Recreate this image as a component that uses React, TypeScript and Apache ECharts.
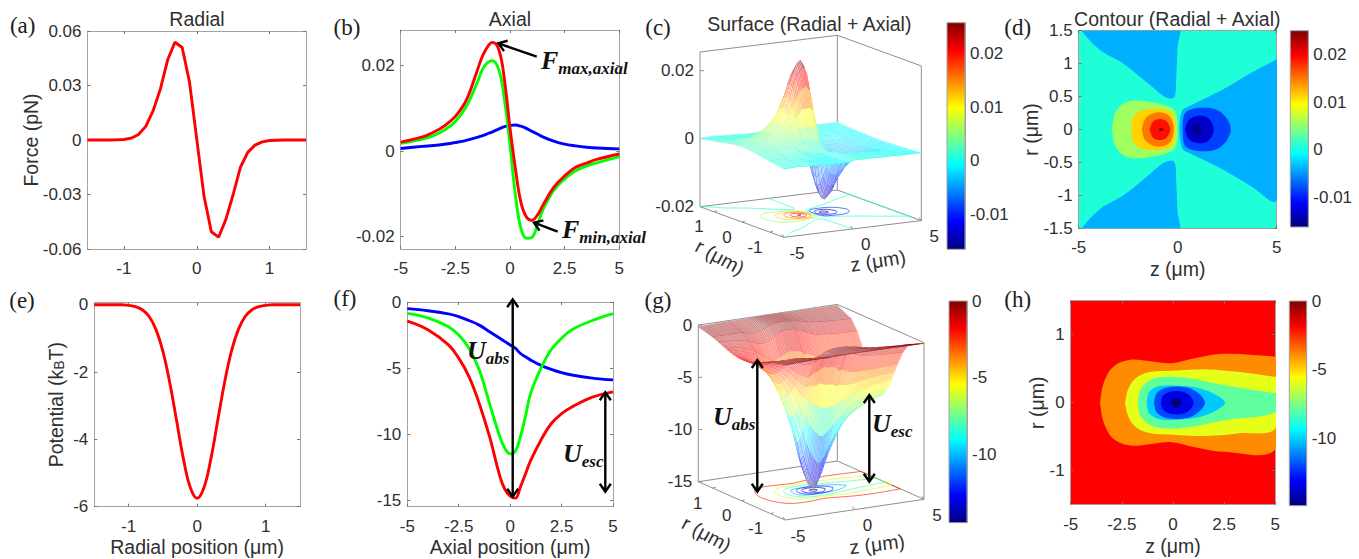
import React, { useEffect, useRef } from "react";
import * as echarts from "echarts";

const radialForceX = [-1.5,-1.4,-1.3,-1.2,-1.1,-1,-0.9,-0.8,-0.7,-0.6,-0.5,-0.4,-0.3,-0.2,-0.1,0,0.1,0.2,0.3,0.4,0.5,0.6,0.7,0.8,0.9,1,1.1,1.2,1.3,1.4,1.5];
const radialForce = [0,0,0,0,0.0001,0.0003,0.001,0.003,0.0075,0.016,0.028,0.044,0.0538,0.0509,0.032,0.0005,-0.031,-0.0505,-0.0535,-0.0437,-0.03,-0.015,-0.0068,-0.0028,-0.001,-0.0003,-0.0001,0,0,0,0];
const radialPotential = [0,0,0,0,0,-0.02,-0.055,-0.15,-0.35,-0.74,-1.38,-2.31,-3.44,-4.58,-5.43,-5.75,-5.43,-4.58,-3.44,-2.31,-1.38,-0.74,-0.35,-0.15,-0.055,-0.02,0,0,0,0,0];

const axialForceX = [-5,-4,-3.5,-3,-2.5,-2,-1.5,-1.25,-1,-0.8,-0.5,-0.25,0,0.25,0.5,0.75,1,1.25,1.5,2,2.5,3,3.5,4,5];
const axialForceRed = [0.0021,0.0033,0.0044,0.0059,0.0081,0.0119,0.0188,0.0223,0.0246,0.0254,0.0235,0.0165,0.0054,-0.0042,-0.012,-0.0154,-0.0162,-0.015,-0.0127,-0.0085,-0.0058,-0.0038,-0.0028,-0.0019,-0.0007];
const axialForceGreen = [0.0018,0.0028,0.0036,0.0049,0.0069,0.0104,0.016,0.0192,0.0208,0.0211,0.0188,0.0119,0.0014,-0.0104,-0.0181,-0.0204,-0.0202,-0.0173,-0.0138,-0.0092,-0.0065,-0.0046,-0.0035,-0.0027,-0.0013];
const axialForceBlue = [0.0006,0.0011,0.0013,0.0016,0.002,0.0025,0.0032,0.0036,0.0041,0.0045,0.0052,0.0057,0.006,0.0061,0.0058,0.0053,0.0046,0.004,0.0033,0.0023,0.0016,0.0012,0.0009,0.0007,0.0005];

const axialPotentialX = [-5,-4,-3,-2.5,-2,-1.5,-1,-0.5,-0.25,0,0.25,0.5,0.75,1,1.5,2,2.5,3,4,5];
const axialPotentialBlue = [-0.5,-0.66,-0.9,-1.1,-1.4,-1.75,-2.25,-2.75,-3,-3.25,-3.5,-3.9,-4.15,-4.4,-4.8,-5.1,-5.35,-5.53,-5.76,-5.9];
const axialPotentialGreen = [-0.86,-1.2,-1.87,-2.5,-3.5,-5.15,-7.7,-10.2,-11.1,-11.5,-11.3,-10.2,-8.6,-6.9,-5,-3.6,-2.75,-2.1,-1.4,-0.88];
const axialPotentialRed = [-1.45,-2.1,-3.25,-4.25,-5.65,-7.7,-10.2,-13.2,-14.2,-14.7,-14.85,-14,-13,-12,-10.45,-9.2,-8.45,-7.95,-7.2,-6.8];

// surface (c), values in units of 1e-3 pN; rows follow surfaceR, mirrored in r
const surfaceR = [0,0.1,0.2,0.3,0.4,0.5,0.6,0.8,1,1.5];
const forceZ = [-5,-4,-3.5,-3,-2.5,-2,-1.75,-1.5,-1.25,-1,-0.75,-0.5,-0.25,0,0.25,0.5,0.75,1,1.25,1.5,1.75,2,2.5,3,3.5,4,5];
const forceRows = [
  [2.1,3.3,4.3,5.4,8.5,12.3,15.5,19.2,22.3,24.6,25.4,23.5,16.5,5.4,-4.2,-12,-15.4,-16.2,-15,-12.7,-10.4,-8.5,-5.8,-3.8,-2.8,-1.9,-0.7],
  [2.1,3.3,4.2,5.3,8.2,11.7,14.7,18,20.9,22.7,23.4,21.7,15.2,5,-3.9,-11.1,-14.2,-15,-14,-11.9,-9.9,-8.1,-5.6,-3.7,-2.7,-1.9,-0.7],
  [2,3.2,4,5,7.4,10.1,12.7,14.7,17.1,17.9,18.4,17.1,12,3.9,-3,-8.7,-11.2,-11.8,-11.5,-9.7,-8.5,-7,-5.1,-3.5,-2.6,-1.8,-0.7],
  [1.9,3,3.6,4.5,6.3,7.8,9.9,10.5,12.2,12,12.4,11.4,8,2.6,-2,-5.8,-7.5,-7.9,-8.2,-7,-6.6,-5.4,-4.3,-3.2,-2.3,-1.7,-0.6],
  [1.8,2.8,3.1,3.9,5,5.5,7,6.6,7.7,6.8,7.1,6.5,4.6,1.5,-1.2,-3.3,-4.3,-4.5,-5.2,-4.4,-4.7,-3.8,-3.4,-2.8,-2,-1.6,-0.6],
  [1.6,2.6,2.6,3.3,3.7,3.5,4.4,3.6,4.2,3.3,3.4,3.2,2.2,0.7,-0.6,-1.6,-2.1,-2.2,-2.8,-2.4,-3,-2.4,-2.5,-2.3,-1.7,-1.5,-0.5],
  [1.5,2.3,2.1,2.6,2.6,1,0.8,0.3,0.2,0,-0.2,-0.4,-0.5,0.1,-0.2,-0.7,-0.9,-0.9,-1.4,-1.2,-1.7,-1.4,-1.7,-1.9,-1.4,-1.3,-0.5],
  [1.1,1.7,1.2,1.5,1,0.5,0.2,-0.2,-0.4,-0.6,-0.7,-0.7,-0.7,0.1,0.5,0.3,-0.2,-0.3,-0.4,-0.4,-0.5,-0.6,-0.7,-1,-0.8,-1,-0.4],
  [0.8,1.2,0.6,0.7,0.2,-0.2,-0.3,-0.4,-0.5,-0.6,-0.6,-0.6,-0.5,0.1,0.4,0.4,0.3,0.2,0.1,0,0,-0.1,-0.2,-0.5,-0.4,-0.7,-0.3],
  [0.1,0.3,0.1,0.1,0,-0.1,-0.2,-0.2,-0.2,-0.2,-0.2,-0.2,-0.2,0.1,0.2,0.2,0.2,0.2,0.2,0.2,0.1,0.1,0.1,0.1,0,0,0],
];

// surface (g), kB T
const potentialZ = [-5,-4,-3,-2.5,-2,-1.5,-1,-0.75,-0.5,-0.25,0,0.25,0.5,0.75,1,1.5,2,2.5,3,4,5];
const potentialRows = [
  [-1.45,-2.1,-3.25,-4.25,-5.65,-7.7,-10.2,-11.9,-13.2,-14.2,-14.7,-14.8,-14,-13,-12,-10.45,-9.2,-8.45,-7.95,-7.2,-6.8],
  [-1.44,-2.07,-3.19,-4.17,-5.54,-7.51,-9.83,-11.41,-12.58,-13.53,-13.98,-14.08,-13.34,-12.4,-11.53,-10.1,-8.93,-8.23,-7.75,-7.03,-6.66],
  [-1.39,-1.99,-3.02,-3.95,-5.22,-6.97,-8.82,-10.07,-10.92,-11.63,-12.04,-12.12,-11.58,-10.9,-10.22,-9.14,-8.21,-7.6,-7.19,-6.57,-6.24],
  [-1.33,-1.86,-2.76,-3.61,-4.72,-6.16,-7.35,-8.18,-8.58,-9.06,-9.38,-9.44,-9.1,-8.8,-8.38,-7.74,-7.11,-6.65,-6.36,-5.87,-5.6],
  [-1.24,-1.7,-2.43,-3.18,-4.1,-5.16,-5.71,-6.1,-6.18,-6.38,-6.6,-6.65,-6.55,-6.6,-6.32,-6.13,-5.82,-5.52,-5.33,-5,-4.82],
  [-1.13,-1.51,-2.06,-2.7,-3.43,-4.12,-4.11,-4.2,-4.01,-4.08,-4.22,-4.25,-4.26,-4.5,-4.42,-4.55,-4.51,-4.33,-4.25,-4.08,-3.97],
  [-1.01,-1.3,-1.69,-2.21,-2.75,-3.13,-2.75,-2.65,-2.39,-2.34,-2.43,-2.44,-2.53,-2.9,-2.84,-3.15,-3.28,-3.24,-3.24,-3.18,-3.13],
  [-0.76,-0.89,-1.02,-1.33,-1.57,-1.56,-0.99,-0.82,-0.62,-0.58,-0.6,-0.61,-0.66,-0.9,-0.92,-1.24,-1.47,-1.53,-1.61,-1.68,-1.71],
  [-0.53,-0.55,-0.53,-0.69,-0.76,-0.63,-0.27,-0.18,-0.12,-0.1,-0.1,-0.1,-0.13,-0.2,-0.22,-0.38,-0.52,-0.58,-0.65,-0.74,-0.79],
  [-0.15,-0.1,-0.06,-0.05,-0.06,-0.03,-0.01,-0.01,-0.01,0,0,0,0,-0.01,-0.01,-0.01,-0.02,-0.02,-0.03,-0.04,-0.05],
];

// contour (d): outlines in (z, r); values in 1e-3 pN
const dWedgeLeft = [[-5.3,1.75],[-4.85,1.5],[-3.92,1.206],[-2.74,1],[-1.4,0.675],[-0.72,0.51],[-0.3,0.47],[-0.13,0.52],[-0.08,0.75],[-0.02,1.2],[-0.02,1.7]];
const dWedgeRight = [[0.08,0],[0.15,0.2],[0.29,0.31],[0.62,0.36],[1.3,0.46],[2.3,0.61],[3.65,0.85],[5,1.07],[5.4,1.17]];
const dBlue1 = [[0.25,0],[0.32,0.22],[0.62,0.3],[1.3,0.33],[1.97,0.3],[2.47,0.17],[2.68,0]];
const dBlue2 = [[0.37,0],[0.54,0.14],[1.04,0.21],[1.55,0.17],[1.83,0]];
const dBlue3 = [[0.66,0],[0.78,0.07],[0.96,0.09],[1.14,0.07],[1.26,0]];
const dGreen = [[-3.33,0],[-3.16,0.245],[-2.74,0.39],[-2.07,0.44],[-1.23,0.41],[-0.56,0.36],[-0.1,0.27],[0,0]];
const dYellow = [[-2.36,0],[-2.24,0.195],[-1.73,0.295],[-1.06,0.31],[-0.39,0.27],[-0.17,0.14],[-0.1,0]];
const dOrange = [[-1.82,0],[-1.65,0.16],[-1.2,0.25],[-0.7,0.25],[-0.35,0.18],[-0.2,0]];
const dRed = [[-1.43,0],[-1.25,0.12],[-0.9,0.16],[-0.55,0.12],[-0.38,0]];
const dDark = [[-0.95,0],[-0.88,0.02],[-0.78,0.02],[-0.71,0]];
const dOutlines = [dWedgeRight,dBlue1,dBlue2,dBlue3,dGreen,dYellow,dOrange,dRed,dDark];
const dValues = [-4,-8.5,-13.2,-15.5,5.7,11.4,15,19.3,25];
const dWedgeValue = -4;

// contour (h): outlines in (z, r); values in kB T
const hOrange = [[-3.57,0],[-3.4,0.28],[-2.92,0.53],[-2.1,0.63],[-1.12,0.61],[-0.07,0.58],[1,0.65],[2.46,0.72],[5,0.68],[5.4,0.67]];
const hYellow = [[-2.35,0],[-2.18,0.21],[-1.78,0.37],[-1.12,0.45],[0,0.47],[1.65,0.49],[3.27,0.45],[5,0.38],[5.4,0.36]];
const hTeal = [[-1.73,0],[-1.6,0.19],[-1.12,0.33],[-0.3,0.38],[0.83,0.36],[2.46,0.26],[5,0.14],[5.4,0.12]];
const hCyan = [[-1.29,0],[-1.16,0.16],[-0.64,0.245],[0.34,0.25],[1.32,0.21],[2.13,0.11],[2.54,0]];
const hBlue = [[-0.93,0],[-0.8,0.14],[-0.3,0.225],[0.67,0.225],[1.24,0.14],[1.56,0]];
const hNavy = [[-0.6,0],[-0.47,0.11],[0,0.17],[0.67,0.14],[1,0]];
const hDark = [[-0.12,0],[-0.02,0.05],[0.15,0.07],[0.32,0.05],[0.42,0]];
const hOutlines = [hOrange,hYellow,hTeal,hCyan,hBlue,hNavy,hDark];
const hValues = [-3.9,-5.96,-7.9,-10.1,-12,-13.4,-14.9];
const hBackgroundValue = -1.86;

const ticksA = { x: [-1,0,1], y: [-0.06,-0.03,0,0.03,0.06] };
const ticksB = { x: [-5,-2.5,0,2.5,5], y: [-0.02,0,0.02] };
const ticksD = { x: [-5,0,5], y: [-1.5,-1,-0.5,0,0.5,1,1.5] };
const ticksE = { x: [-1,0,1], y: [-6,-4,-2,0] };
const ticksF = { x: [-5,-2.5,0,2.5,5], y: [-15,-10,-5,0] };
const ticksH = { x: [-5,-2.5,0,2.5,5], y: [-1,0,1] };
const cbarForceTicks = [-0.01,0,0.01,0.02];
const cbarPotentialTicks = [-10,-5,0];
const zTicks3d = [-5,0,5];
const rTicks3d = [1,0,-1];
const potentialTicks3d = [-15,-10,-5,0];

const JET = ["#00007F","#0000FF","#007FFF","#00FFFF","#7FFF7F","#FFFF00","#FF7F00","#FF0000","#7F0000"];
const rgb = (h: string) => [1,3,5].map((i) => parseInt(h.slice(i,i+2),16));
const JET_RGB = JET.map(rgb);
function jetArr(v: number, lo: number, hi: number) {
  const t = Math.max(0, Math.min(0.9999, (v-lo)/(hi-lo))) * (JET.length-1);
  const i = Math.floor(t), f = t-i;
  return JET_RGB[i].map((c,k) => Math.round(c+(JET_RGB[i+1][k]-c)*f));
}
const jet = (v: number, lo: number, hi: number) => { const c = jetArr(v,lo,hi); return `rgb(${c[0]},${c[1]},${c[2]})`; };
const jetPale = (v: number, lo: number, hi: number, a: number) => { const c = jetArr(v,lo,hi).map((x) => Math.round(x*a+255*(1-a))); return `rgb(${c[0]},${c[1]},${c[2]})`; };

const SANS = "'Liberation Sans', Arial, sans-serif";
const INK = "#303030";
const EDGE = "#a3a3a3";
const TICK = 17, LABEL = 19.5;
const zip = (xs: number[], ys: number[]) => xs.map((x,i) => [x,ys[i]]);

type Box = { l:number; t:number; r:number; b:number };
const grids: any[] = [], xAxes: any[] = [], yAxes: any[] = [], series: any[] = [];

function addPlot(box: Box, xr: number[], yr: number[], ticks: any, xName?: string, xGap=0, yName?: string, yGap=0, yRich?: any) {
  const g = grids.length;
  grids.push({ left: box.l, top: box.t, width: box.r-box.l, height: box.b-box.t, show: false });
  const line = { show: true, onZero: false, lineStyle: { color: EDGE, width: 1 } };
  const xi = xAxes.length, yi = yAxes.length;
  xAxes.push({ type:"value", gridIndex:g, min:xr[0], max:xr[1], position:"bottom", axisLine:line, splitLine:{show:false},
    axisTick:{ show:true, inside:true, length:3, customValues:ticks.x, lineStyle:{color:"#777"} },
    axisLabel:{ customValues:ticks.x, color:INK, fontSize:TICK, fontFamily:SANS, margin:11 },
    name:xName, nameLocation:"middle", nameGap:xGap, nameTextStyle:{ color:INK, fontSize:LABEL, fontFamily:SANS } });
  xAxes.push({ type:"value", gridIndex:g, min:xr[0], max:xr[1], position:"top", axisLine:line, splitLine:{show:false},
    axisTick:{ show:true, inside:true, length:3, customValues:ticks.x, lineStyle:{color:"#777"} }, axisLabel:{show:false} });
  yAxes.push({ type:"value", gridIndex:g, min:yr[0], max:yr[1], position:"left", axisLine:line, splitLine:{show:false},
    axisTick:{ show:true, inside:true, length:3, customValues:ticks.y, lineStyle:{color:"#777"} },
    axisLabel:{ customValues:ticks.y, color:INK, fontSize:TICK, fontFamily:SANS, margin:6 },
    name:yName, nameLocation:"middle", nameGap:yGap, nameRotate:90, nameMoveOverlap:false,
    nameTextStyle:{ color:INK, fontSize:LABEL, fontFamily:SANS, rich:yRich } });
  yAxes.push({ type:"value", gridIndex:g, min:yr[0], max:yr[1], position:"right", axisLine:line, splitLine:{show:false},
    axisTick:{ show:true, inside:true, length:3, customValues:ticks.y, lineStyle:{color:"#777"} }, axisLabel:{show:false} });
  return { g, xi, yi };
}

function addLine(ax: any, data: number[][], color: string, smooth: any) {
  series.push({ type:"line", xAxisIndex:ax.xi, yAxisIndex:ax.yi, data, symbol:"none", smooth, lineStyle:{ color, width:2.9 }, silent:true, z:3 });
}

function addColorbar(box: Box, lo: number, hi: number, ticks: number[]) {
  const g = grids.length;
  grids.push({ left:box.l, top:box.t, width:box.r-box.l, height:box.b-box.t, show:false });
  const xi = xAxes.length, yi = yAxes.length;
  xAxes.push({ type:"value", gridIndex:g, min:0, max:1, show:false });
  yAxes.push({ type:"value", gridIndex:g, min:lo, max:hi, position:"right",
    axisLine:{ show:true, onZero:false, lineStyle:{ color:EDGE } }, splitLine:{show:false},
    axisTick:{ show:true, inside:true, length:3, customValues:ticks, lineStyle:{color:"#555"} },
    axisLabel:{ customValues:ticks, color:INK, fontSize:TICK, fontFamily:SANS, margin:5 } });
  const stops = JET.slice().reverse().map((color,i) => ({ offset:i/(JET.length-1), color }));
  series.push({ type:"custom", xAxisIndex:xi, yAxisIndex:yi, silent:true, clip:false, z:1, data:[[0,lo]],
    renderItem:(_p: any, api: any) => {
      const a = api.coord([0,hi]), b = api.coord([1,lo]);
      return { type:"rect", shape:{ x:a[0], y:a[1], width:b[0]-a[0], height:b[1]-a[1] },
        style:{ fill:new echarts.graphic.LinearGradient(0,0,0,1,stops), stroke:EDGE, lineWidth:1 } };
    } });
}

function mirror(o: number[][]) { return o.concat(o.slice(0,-1).reverse().map((p) => [p[0],-p[1]])); }
function mirrorOpen(o: number[][]) { return o.concat(o.slice().reverse().map((p) => [p[0],-p[1]])); }

function addFilled(ax: any, outline: number[][], fill: string) {
  series.push({ type:"custom", xAxisIndex:ax.xi, yAxisIndex:ax.yi, silent:true, clip:true, z:2, data:[outline[0]],
    renderItem:(_p: any, api: any) => ({ type:"polygon", shape:{ points:outline.map((q) => api.coord(q)), smooth:0.35 }, style:{ fill } }) });
}

// 3D panels
type P3 = { ox:number; oy:number; ezx:number; ezy:number; erx:number; ery:number; vmin:number; vmax:number; vs:number; lo:number; hi:number };
const panelC: P3 = { ox:700, oy:206.7, ezx:137.3, ezy:-16.7, erx:84, ery:30.6, vmin:-20, vmax:25.5, vs:3.4, lo:-16.5, hi:25.7 };
const panelG: P3 = { ox:698.3, oy:481.7, ezx:139, ezy:-20.7, erx:86.7, ery:38.3, vmin:-15, vmax:0, vs:10.44, lo:-14.4, hi:0 };
function proj(p: P3, z: number, r: number, v: number) {
  const a = (z+5)/10, b = (1.5-r)/3;
  return [p.ox+a*p.ezx+b*p.erx, p.oy+a*p.ezy+b*p.ery-(v-p.vmin)*p.vs];
}
const clampZ = (z: number) => Math.max(-5, Math.min(5, z));
const clampR = (r: number) => Math.max(-1.5, Math.min(1.5, r));

function buildCells(zs: number[], rows: number[][]) {
  const rs = surfaceR.slice().reverse().concat(surfaceR.slice(1).map((r) => -r));
  const vals = rows.slice().reverse().concat(rows.slice(1));
  const cells: number[][] = [];
  for (let j = 0; j < rs.length-1; j++) for (let i = 0; i < zs.length-1; i++)
    cells.push([zs[i],zs[i+1],rs[j],rs[j+1],vals[j][i],vals[j][i+1],vals[j+1][i],vals[j+1][i+1]]);
  return cells;
}

function addFrame(p: P3, ax: any, vTicks: number[], floor: { pts:number[][]; color:string }[]) {
  series.push({ type:"custom", xAxisIndex:ax.xi, yAxisIndex:ax.yi, silent:true, clip:false, z:2, data:[[0,0]],
    renderItem:(_q: any, api: any) => {
      const P = (z: number, r: number, v: number) => api.coord(proj(p,z,r,v));
      const seg = (a: number[], b: number[], stroke=  "#8f8f8f", w=1) => ({ type:"line", shape:{ x1:a[0],y1:a[1],x2:b[0],y2:b[1] }, style:{ stroke, lineWidth:w } });
      const ch: any[] = [];
      const L=[-5,1.5], B=[5,1.5], R=[5,-1.5], F=[-5,-1.5];
      [L,B,R].forEach((c) => ch.push(seg(P(c[0],c[1],p.vmin),P(c[0],c[1],p.vmax))));
      [[L,B],[B,R]].forEach(([a,b]) => ch.push(seg(P(a[0],a[1],p.vmax),P(b[0],b[1],p.vmax))));
      [[L,F],[F,R],[L,B],[B,R]].forEach(([a,b]) => ch.push(seg(P(a[0],a[1],p.vmin),P(b[0],b[1],p.vmin))));
      vTicks.forEach((v) => { const a = P(-5,1.5,v); ch.push(seg(a,[a[0]+4,a[1]])); });
      zTicks3d.forEach((z) => { const a = P(z,-1.5,p.vmin); ch.push(seg(a,[a[0]-2,a[1]-3])); });
      rTicks3d.forEach((r) => { const a = P(-5,r,p.vmin); ch.push(seg(a,[a[0]+3,a[1]-1])); });
      floor.forEach((f) => ch.push({ type:"polyline", shape:{ points:f.pts.map((q) => P(clampZ(q[0]),clampR(q[1]),p.vmin)), smooth:0.35 }, style:{ stroke:f.color, lineWidth:0.8, fill:"none", opacity:0.85 } }));
      return { type:"group", children:ch };
    } });
}

function addSurface(p: P3, ax: any, cells: number[][]) {
  series.push({ type:"custom", xAxisIndex:ax.xi, yAxisIndex:ax.yi, silent:true, clip:false, z:3,
    data:cells.map((_c,i) => [i,0]),
    renderItem:(q: any, api: any) => {
      const [z0,z1,r0,r1,a,b,c,d] = cells[q.dataIndex];
      const P = (z: number, r: number, v: number) => api.coord(proj(p,z,r,v));
      const fill = jetPale((a+b+c+d)/4,p.lo,p.hi,0.26);
      const ch: any[] = [{ type:"polygon", shape:{ points:[P(z0,r0,a),P(z1,r0,b),P(z1,r1,d),P(z0,r1,c)] },
        style:{ fill, stroke:fill, lineWidth:0.3 } }];
      const n = Math.max(1, Math.round((z1-z0)/0.1));
      for (let k = 0; k < n; k++) {
        const t = k/n, va = a+(b-a)*t, vb = c+(d-c)*t, zz = z0+(z1-z0)*t;
        const s = P(zz,r0,va), e = P(zz,r1,vb);
        ch.push({ type:"line", shape:{ x1:s[0],y1:s[1],x2:e[0],y2:e[1] }, style:{ stroke:jet((va+vb)/2,p.lo,p.hi), lineWidth:0.3 } });
      }
      const s = P(z0,r1,c), e = P(z1,r1,d);
      ch.push({ type:"line", shape:{ x1:s[0],y1:s[1],x2:e[0],y2:e[1] }, style:{ stroke:jet((c+d)/2,p.lo,p.hi), lineWidth:0.6 } });
      return { type:"group", children:ch };
    } });
}

function buildOption() {
  grids.length = 0; xAxes.length = 0; yAxes.length = 0; series.length = 0;

  // page scale used by the two projected panels
  grids.push({ left:0, top:0, width:1359, height:559, show:false });
  xAxes.push({ type:"value", gridIndex:0, min:0, max:1359, show:false });
  yAxes.push({ type:"value", gridIndex:0, min:0, max:559, inverse:true, show:false });
  const page = { xi:0, yi:0 };

  const a = addPlot({l:87.5,t:31,r:306,b:249}, [-1.5,1.5], [-0.06,0.06], ticksA, undefined, 0, "Force (pN)", 47);
  addLine(a, zip(radialForceX, radialForce), "#FF0000", false);

  const b = addPlot({l:400.7,t:30,r:619.3,b:249}, [-5,5], [-0.0229,0.0283], ticksB);
  addLine(b, zip(axialForceX, axialForceBlue), "#0000FF", 0.4);
  addLine(b, zip(axialForceX, axialForceGreen), "#00FF00", 0.4);
  addLine(b, zip(axialForceX, axialForceRed), "#FF0000", 0.4);

  const e = addPlot({l:94.3,t:302.7,r:300,b:506.7}, [-1.5,1.5], [-6,0.06], ticksE, "Radial position (μm)", 30,
    "{t|Potential (k}{s|B}{t|T)}", 28, {
      t:{ fontSize:LABEL, fontFamily:SANS, color:INK },
      s:{ fontSize:14, fontFamily:SANS, color:INK, verticalAlign:"bottom" } });
  addLine(e, zip(radialForceX, radialPotential), "#FF0000", 0.4);

  const f = addPlot({l:407.3,t:302,r:613,b:506.7}, [-5,5], [-15.5,0], ticksF, "Axial position (μm)", 30);
  addLine(f, zip(axialPotentialX, axialPotentialBlue), "#0000FF", 0.4);
  addLine(f, zip(axialPotentialX, axialPotentialGreen), "#00FF00", 0.4);
  addLine(f, zip(axialPotentialX, axialPotentialRed), "#FF0000", 0.4);

  const dLo = -16.3, dHi = 25.1;
  const d = addPlot({l:1078.7,t:30.7,r:1276.7,b:228.3}, [-5,5], [-1.5,1.5], ticksD, "z (μm)", 31, "r (μm)", 38);
  grids[d.g].show = true; grids[d.g].backgroundColor = "#1EFFD8"; grids[d.g].borderWidth = 0;
  addFilled(d, dWedgeLeft, jet(dWedgeValue,dLo,dHi));
  addFilled(d, dWedgeLeft.map((q) => [q[0],-q[1]]), jet(dWedgeValue,dLo,dHi));
  dOutlines.forEach((o,i) => addFilled(d, mirror(o), jet(dValues[i],dLo,dHi)));

  const hLo = -14.9, hHi = 0;
  const h = addPlot({l:1070.7,t:300.7,r:1275.3,b:504.7}, [-5,5], [-1.5,1.5], ticksH, "z (μm)", 31, "r (μm)", 24);
  grids[h.g].show = true; grids[h.g].backgroundColor = jet(hBackgroundValue,hLo,hHi); grids[h.g].borderWidth = 0;
  hOutlines.forEach((o,i) => addFilled(h, mirror(o), jet(hValues[i],hLo,hHi)));

  addColorbar({l:947,t:22.7,r:965,b:249.3}, -0.0165, 0.0257, cbarForceTicks);
  addColorbar({l:1290.3,t:30.7,r:1308.3,b:227}, -0.0163, 0.0251, cbarForceTicks);
  addColorbar({l:949,t:301,r:967,b:522.7}, -14.4, 0, cbarPotentialTicks);
  addColorbar({l:1289.3,t:301,r:1306.7,b:505.7}, -14.9, 0, cbarPotentialTicks);

  // floor contours reuse the outlines of the flat panels
  const floorC = [
    { pts:dWedgeLeft, color:jet(1,panelC.lo,panelC.hi) },
    { pts:dWedgeLeft.map((q) => [q[0],-q[1]]), color:jet(1,panelC.lo,panelC.hi) },
    { pts:mirrorOpen(dWedgeRight), color:jet(1,panelC.lo,panelC.hi) },
    ...[dBlue1,dBlue2,dBlue3,dGreen,dYellow,dOrange,dRed,dDark].map((o,i) => ({ pts:mirrorOpen(o), color:jet(dValues[i+1],panelC.lo,panelC.hi) })),
  ];
  const floorG = hOutlines.map((o,i) => ({ pts:mirrorOpen(o), color:jet(hValues[i]+ (i===0?1.5:0),panelG.lo,panelG.hi) }));
  addFrame(panelC, page, [-20,0,20], floorC);
  addSurface(panelC, page, buildCells(forceZ, forceRows));
  addFrame(panelG, page, potentialTicks3d, floorG);
  addSurface(panelG, page, buildCells(potentialZ, potentialRows));

  // texts
  const gfx: any[] = [];
  const txt = (s: string, x: number, y: number, size=TICK, extra: any={}, rotation=0, align="center") =>
    gfx.push({ type:"text", x, y, rotation, z:50, silent:true, style:{ text:s, fontSize:size, fontFamily:SANS, fill:INK, align, verticalAlign:"middle", ...extra } });
  txt("Radial",197,19.3,LABEL); txt("Axial",510,19,LABEL);
  txt("Surface (Radial + Axial)",809.3,24,LABEL); txt("Contour (Radial + Axial)",1177.3,19.3,LABEL);
  const panels: [string,number,number][] = [["(a)",22.7,25],["(b)",347,27],["(c)",658,27],["(d)",1017.7,27],["(e)",22,300],["(f)",345,298],["(g)",658,300],["(h)",1017.7,299]];
  panels.forEach(([s,x,y]) => txt(s,x,y,23,{ fontFamily:"'Liberation Serif', serif", fill:"#202020" }));

  const ticks3d = (p: P3, vt: number[], vFmt: (v:number)=>string) => {
    vt.forEach((v) => { const q = proj(p,-5,1.5,v); txt(vFmt(v), q[0]-6, q[1], TICK, {}, 0, "right"); });
    zTicks3d.forEach((z) => { const q = proj(p,z,-1.5,p.vmin); txt(String(z), q[0]+13, q[1]+16); });
    rTicks3d.forEach((r) => { const q = proj(p,-5,r,p.vmin); txt(String(r), q[0]-15, q[1]+15); });
  };
  ticks3d(panelC, [-20,0,20], (v) => String(v/1000));
  ticks3d(panelG, potentialTicks3d, String);
  txt("r (μm)",720,257,LABEL,{},-0.5); txt("z (μm)",878,260.7,LABEL,{},0.15);
  txt("r (μm)",706.7,534,LABEL,{},-0.5); txt("z (μm)",877,544,LABEL,{},0.12);

  // annotations
  const serif = "'Liberation Serif', serif";
  const math = (main: string, sub: string, x: number, y: number) => gfx.push({ type:"text", x, y, z:60, silent:true, style:{
    text:`{m|${main}}{s|${sub}}`, align:"left", verticalAlign:"middle",
    rich:{ m:{ fontFamily:serif, fontWeight:"bold", fontStyle:"italic", fontSize:26, fill:"#111", padding:[0,0,4,0], verticalAlign:"bottom" },
           s:{ fontFamily:serif, fontWeight:"bold", fontStyle:"italic", fontSize:17, fill:"#111", verticalAlign:"bottom" } } } });
  math("F","max,axial",541,62); math("F","min,axial",562,231);
  math("U","abs",467,352); math("U","esc",563,455);
  math("U","abs",713,418); math("U","esc",872,425);

  const arrowHead = (x: number, y: number, dx: number, dy: number) => {
    const L = Math.hypot(dx,dy), ux = dx/L, uy = dy/L, hl = 8, hw = 5.5;
    gfx.push({ type:"polyline", z:60, silent:true, shape:{ points:[[x-ux*hl-uy*hw,y-uy*hl+ux*hw],[x,y],[x-ux*hl+uy*hw,y-uy*hl-ux*hw]] }, style:{ stroke:"#000", lineWidth:2.4, fill:"none" } });
  };
  const arrow = (x1: number, y1: number, x2: number, y2: number, both=false) => {
    gfx.push({ type:"line", z:60, silent:true, shape:{ x1,y1,x2,y2 }, style:{ stroke:"#000", lineWidth:2.4 } });
    arrowHead(x2,y2,x2-x1,y2-y1);
    if (both) arrowHead(x1,y1,x1-x2,y1-y2);
  };
  arrow(536.7,56.7,498.3,43.3); arrow(557.7,231.7,534,222.7);
  arrow(512.7,299.3,512.7,496.7,true); arrow(605.3,392.3,605.3,491.7,true);
  arrow(757.3,360,757.3,491.7,true); arrow(869.3,395,869.3,481.7,true);

  return { animation:false, backgroundColor:"#fff", grid:grids, xAxis:xAxes, yAxis:yAxes, series, graphic:{ elements:gfx } };
}

export default function App() {
  const ref = useRef<HTMLDivElement>(null);
  useEffect(() => {
    const chart = echarts.init(ref.current!, undefined, { renderer:"svg" });
    chart.setOption(buildOption() as any);
    return () => chart.dispose();
  }, []);
  return <div ref={ref} style={{ position:"absolute", left:0, top:0, width:1359, height:559 }} />;
}
